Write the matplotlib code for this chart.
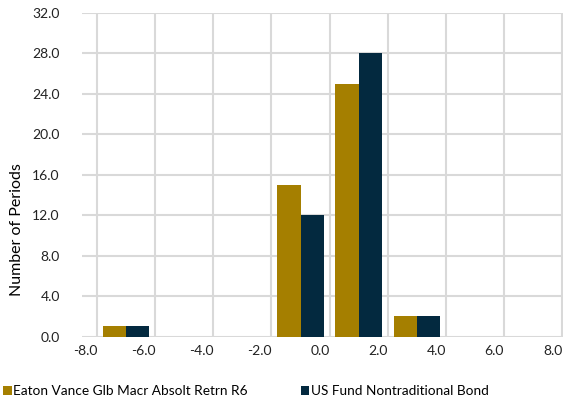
import numpy as np
import matplotlib.pyplot as plt

plt.rcParams['font.family'] = ['Lato', 'DejaVu Sans']

# Histogram bins (return %, bin centers) and counts
bin_centers = [-7.0, -1.0, 1.0, 3.0]
fund_counts = [1, 15, 25, 2]
category_counts = [1, 12, 28, 2]
fund_name = "Eaton Vance Glb Macr Absolt Retrn R6"
category_name = "US Fund Nontraditional Bond"
x_ticks = [-8, -6, -4, -2, 0, 2, 4, 6, 8]
y_ticks = [0, 4, 8, 12, 16, 20, 24, 28, 32]

gold = "#A57F00"
navy = "#03293F"
grid_color = "#D9D9D9"

fig = plt.figure(figsize=(5.63, 4.0), dpi=100)
ax = fig.add_axes([82 / 563, 1 - 336.5 / 400, 1 - 82 / 563, (336.5 - 13) / 400])

x = np.array(bin_centers)
w = 0.8
ax.bar(x - w / 2, fund_counts, width=w, color=gold, label=fund_name, zorder=3)
ax.bar(x + w / 2, category_counts, width=w, color=navy, label=category_name, zorder=3)

ax.set_xlim(-8.52, 8.03)
ax.set_ylim(0, 32)
ax.set_xticks(x_ticks)
ax.set_xticklabels([f"{v:.1f}" for v in x_ticks], ha='right')
ax.set_yticks(y_ticks)
ax.set_yticklabels([f"{v:.1f}" for v in y_ticks])
ax.tick_params(length=0, labelsize=10, colors="#222222")
ax.tick_params(axis='y', pad=16)
ax.tick_params(axis='x', pad=6)
ax.grid(True, color=grid_color, linewidth=1.5, zorder=0)
ax.set_axisbelow(True)
for s in ax.spines.values():
    s.set_visible(False)

fig.text(17 / 563, 1 - 230 / 400, "Number of Periods", rotation=90,
         ha='center', va='center', fontsize=11.5)

fig.legend(loc='center left', bbox_to_anchor=(0.0, 1 - 391 / 400), ncol=2,
           frameon=False, fontsize=9.8, handlelength=0.65, handleheight=0.65,
           handletextpad=0.1, columnspacing=3.9, borderaxespad=0, borderpad=0.2)

fig.savefig("out.png", dpi=100)
